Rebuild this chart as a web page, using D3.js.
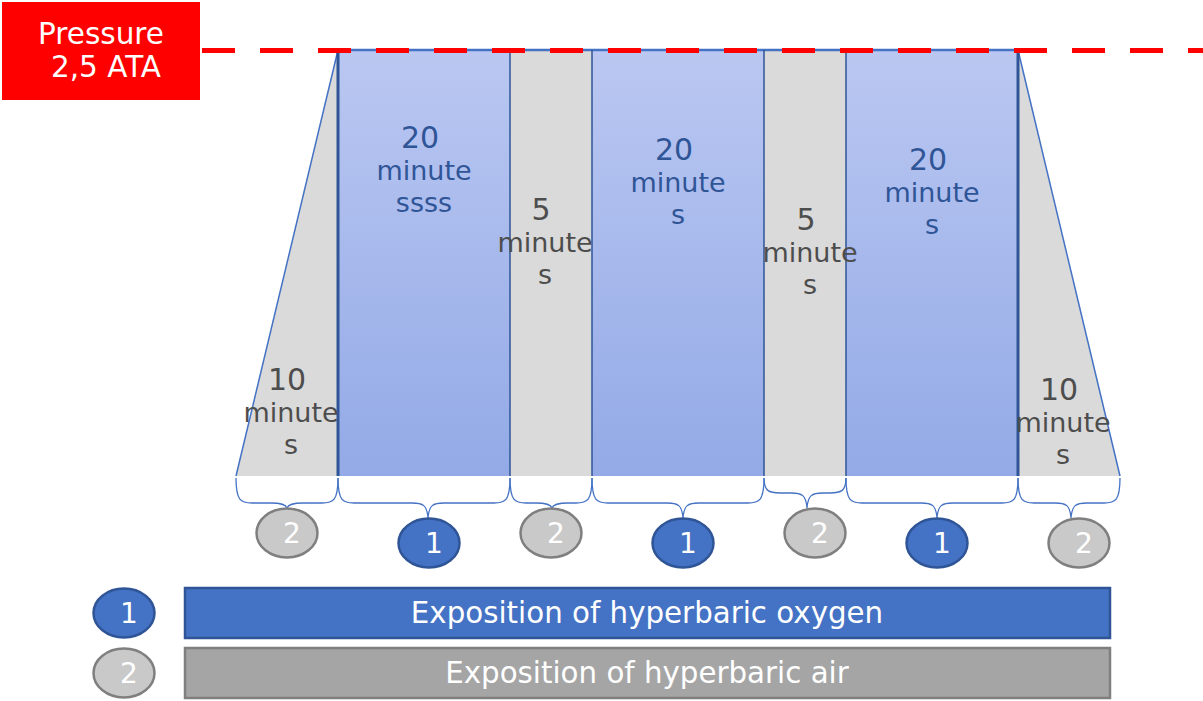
<!DOCTYPE html>
<meta charset="utf-8">
<script src="https://d3js.org/d3.v7.min.js"></script>
<style>
  body { margin: 0; background: #fff; }
  text { font-family: "DejaVu Sans", sans-serif; }
</style>
<div id="chart"></div>
<script>

// session profile: one entry per phase
var phases = ["compression", "oxygen 1", "air break 1", "oxygen 2", "air break 2", "oxygen 3", "decompression"];
var durations = [10, 20, 5, 20, 5, 20, 10];          // minutes
var gasType = [2, 1, 2, 1, 2, 1, 2];                  // 1 = oxygen, 2 = air
var pressureStart = [1, 2.5, 2.5, 2.5, 2.5, 2.5, 2.5]; // ATA
var pressureEnd = [2.5, 2.5, 2.5, 2.5, 2.5, 2.5, 1];
var numberLabels = ["10", "20", "5", "20", "5", "20", "10"];
var wordLabels = [["minute", "s"], ["minute", "ssss"], ["minute", "s"], ["minute", "s"], ["minute", "s"], ["minute", "s"], ["minute", "s"]];
var pressureLabel = ["Pressure", "2,5 ATA"];
var legendNumbers = ["1", "2"];
var legendLabels = ["Exposition of hyperbaric oxygen", "Exposition of hyperbaric air"];

// small layout tweaks per phase (label / brace placement as in the original slide)
var labelDx = [4, 0, -6, 0, 5, 0, -6];
var labelTop = [390, 148, 220, 160, 230, 170, 400];
var braceBar = [503, 503, 503, 503, 493, 503, 503];
var tipDx = [0, 4, 1, 5, 2, 5, 2];
var bubbleDx = [0, 5, 0, 5, 10, 5, 10];
var bubbleY = [533, 543, 533, 543, 533, 543, 543];

var W = 1203, H = 701;
var colors = {
  oxyFill: "#4472C4", oxyStroke: "#2F5597",
  airFill: "#C9C9C9", airStroke: "#7F7F7F", airBar: "#A5A5A5",
  grey: "#DADADA", blueText: "#2F5597", greyText: "#4D4D4D"
};

var svg = d3.select("#chart").append("svg")
  .attr("width", W).attr("height", H);

var defs = svg.append("defs");
var grad = defs.append("linearGradient").attr("id", "oxyGrad")
  .attr("x1", 0).attr("y1", 0).attr("x2", 0).attr("y2", 1);
grad.append("stop").attr("offset", "0%").attr("stop-color", "#BAC7F1");
grad.append("stop").attr("offset", "100%").attr("stop-color", "#93AAE7");

// width of a phase on the slide is not strictly proportional to its duration
var widthScale = d3.scaleLinear().domain([5, 10, 20]).range([82, 102, 172]);
var y = d3.scaleLinear().domain([1, 2.5]).range([476, 50]);

var x0 = 236;
var segs = phases.map(function(p, i) {
  var start = x0;
  x0 += widthScale(durations[i]);
  return { name: p, i: i, xs: start, xe: x0, type: gasType[i],
           p0: pressureStart[i], p1: pressureEnd[i] };
});

// phase areas
svg.selectAll(".phase")
  .data(segs)
  .enter().append("path")
    .attr("class", "phase")
    .attr("d", function(d) {
      return "M" + d.xs + "," + y(1) + "L" + d.xs + "," + y(d.p0) +
             "L" + d.xe + "," + y(d.p1) + "L" + d.xe + "," + y(1) + "Z";
    })
    .style("fill", function(d) { return d.type == 1 ? "url(#oxyGrad)" : colors.grey; });

// slanted edges of compression / decompression
svg.selectAll(".ramp")
  .data(segs.filter(function(d) { return d.p0 != d.p1; }))
  .enter().append("line")
    .attr("x1", function(d) { return d.xs; })
    .attr("y1", function(d) { return y(d.p0); })
    .attr("x2", function(d) { return d.xe; })
    .attr("y2", function(d) { return y(d.p1); })
    .style("stroke", colors.oxyFill)
    .style("stroke-width", 1.5);

// top edge at full pressure
var flat = segs.filter(function(d) { return d.p0 == d.p1; });
svg.append("line")
  .attr("x1", flat[0].xs).attr("x2", flat[flat.length - 1].xe)
  .attr("y1", y(2.5)).attr("y2", y(2.5))
  .style("stroke", colors.oxyFill)
  .style("stroke-width", 2.5);

// dividers between phases
var dividers = segs.slice(1).map(function(d) { return d.xs; });
svg.selectAll(".divider")
  .data(dividers)
  .enter().append("line")
    .attr("x1", function(d) { return d; }).attr("x2", function(d) { return d; })
    .attr("y1", y(2.5)).attr("y2", y(1))
    .style("stroke", colors.oxyStroke)
    .style("stroke-width", function(d, i) { return (i == 0 || i == dividers.length - 1) ? 3 : 1.5; });

// red dashed pressure line + label box
svg.append("line")
  .attr("x1", 202).attr("x2", W)
  .attr("y1", y(2.5) + 0.5).attr("y2", y(2.5) + 0.5)
  .style("stroke", "#FF0000")
  .style("stroke-width", 5)
  .style("stroke-dasharray", "33,25");

svg.append("rect")
  .attr("x", 2).attr("y", 2).attr("width", 198).attr("height", 98)
  .style("fill", "#FF0000");
svg.selectAll(".plabel")
  .data(pressureLabel)
  .enter().append("text")
    .attr("x", function(d, i) { return i == 0 ? 101 : 106; })
    .attr("y", function(d, i) { return 44 + i * 33; })
    .attr("text-anchor", "middle")
    .style("font-size", "29.5px")
    .style("fill", "#fff")
    .text(function(d) { return d; });

// duration labels
var lab = svg.selectAll(".seglabel")
  .data(segs)
  .enter().append("g")
    .attr("transform", function(d) {
      return "translate(" + ((d.xs + d.xe) / 2 + labelDx[d.i]) + "," + labelTop[d.i] + ")";
    })
    .style("fill", function(d) { return d.type == 1 ? colors.blueText : colors.greyText; });
lab.append("text")
  .attr("x", -4).attr("y", 0)
  .attr("text-anchor", "middle")
  .style("font-size", "30px")
  .text(function(d) { return numberLabels[d.i]; });
lab.each(function(d) {
  d3.select(this).selectAll(".w")
    .data(wordLabels[d.i])
    .enter().append("text")
      .attr("x", 0)
      .attr("y", function(w, j) { return 32 + j * 32; })
      .attr("text-anchor", "middle")
      .style("font-size", "27px")
      .text(function(w) { return w; });
});

// curly braces under each phase
function brace(xa, xb, top, bar, tx, ty) {
  var r = 16;
  return "M" + xa + "," + top +
    "C" + xa + "," + (bar - 2) + " " + (xa + 5) + "," + bar + " " + (xa + r) + "," + bar +
    "L" + (tx - r) + "," + bar +
    "C" + (tx - 5) + "," + bar + " " + (tx - 1) + "," + (bar + 2) + " " + tx + "," + ty +
    "C" + (tx + 1) + "," + (bar + 2) + " " + (tx + 5) + "," + bar + " " + (tx + r) + "," + bar +
    "L" + (xb - r) + "," + bar +
    "C" + (xb - 5) + "," + bar + " " + xb + "," + (bar - 2) + " " + xb + "," + top;
}
svg.selectAll(".brace")
  .data(segs)
  .enter().append("path")
    .attr("d", function(d) {
      var tx = (d.xs + d.xe) / 2 + tipDx[d.i];
      return brace(d.xs, d.xe, y(1) + 2, braceBar[d.i], tx, bubbleY[d.i] - 25);
    })
    .style("fill", "none")
    .style("stroke", colors.oxyFill)
    .style("stroke-width", 1.3);

// numbered bubbles
function bubble(sel, type) {
  sel.append("ellipse")
    .attr("rx", 30.5).attr("ry", 24.5)
    .style("fill", type == 1 ? colors.oxyFill : colors.airFill)
    .style("stroke", type == 1 ? colors.oxyStroke : colors.airStroke)
    .style("stroke-width", 2.5);
  sel.append("text")
    .attr("x", 5).attr("y", 10)
    .attr("text-anchor", "middle")
    .style("font-size", "28px")
    .style("fill", "#fff")
    .text(legendNumbers[type - 1]);
}
svg.selectAll(".bubble")
  .data(segs)
  .enter().append("g")
    .attr("transform", function(d) {
      return "translate(" + ((d.xs + d.xe) / 2 + bubbleDx[d.i]) + "," + bubbleY[d.i] + ")";
    })
    .each(function(d) { bubble(d3.select(this), d.type); });

// legend
var leg = svg.selectAll(".legend")
  .data(legendLabels)
  .enter().append("g")
    .attr("transform", function(d, i) { return "translate(0," + (613 + i * 60) + ")"; });
leg.each(function(d, i) {
  var g = d3.select(this).append("g").attr("transform", "translate(124,0)");
  bubble(g, i + 1);
});
leg.append("rect")
  .attr("x", 185).attr("y", -25).attr("width", 925).attr("height", 50)
  .style("fill", function(d, i) { return i == 0 ? colors.oxyFill : colors.airBar; })
  .style("stroke", function(d, i) { return i == 0 ? colors.oxyStroke : colors.airStroke; })
  .style("stroke-width", 2.5);
leg.append("text")
  .attr("x", 647).attr("y", 10)
  .attr("text-anchor", "middle")
  .style("font-size", "29.3px")
  .style("fill", "#fff")
  .text(function(d) { return d; });

</script>
